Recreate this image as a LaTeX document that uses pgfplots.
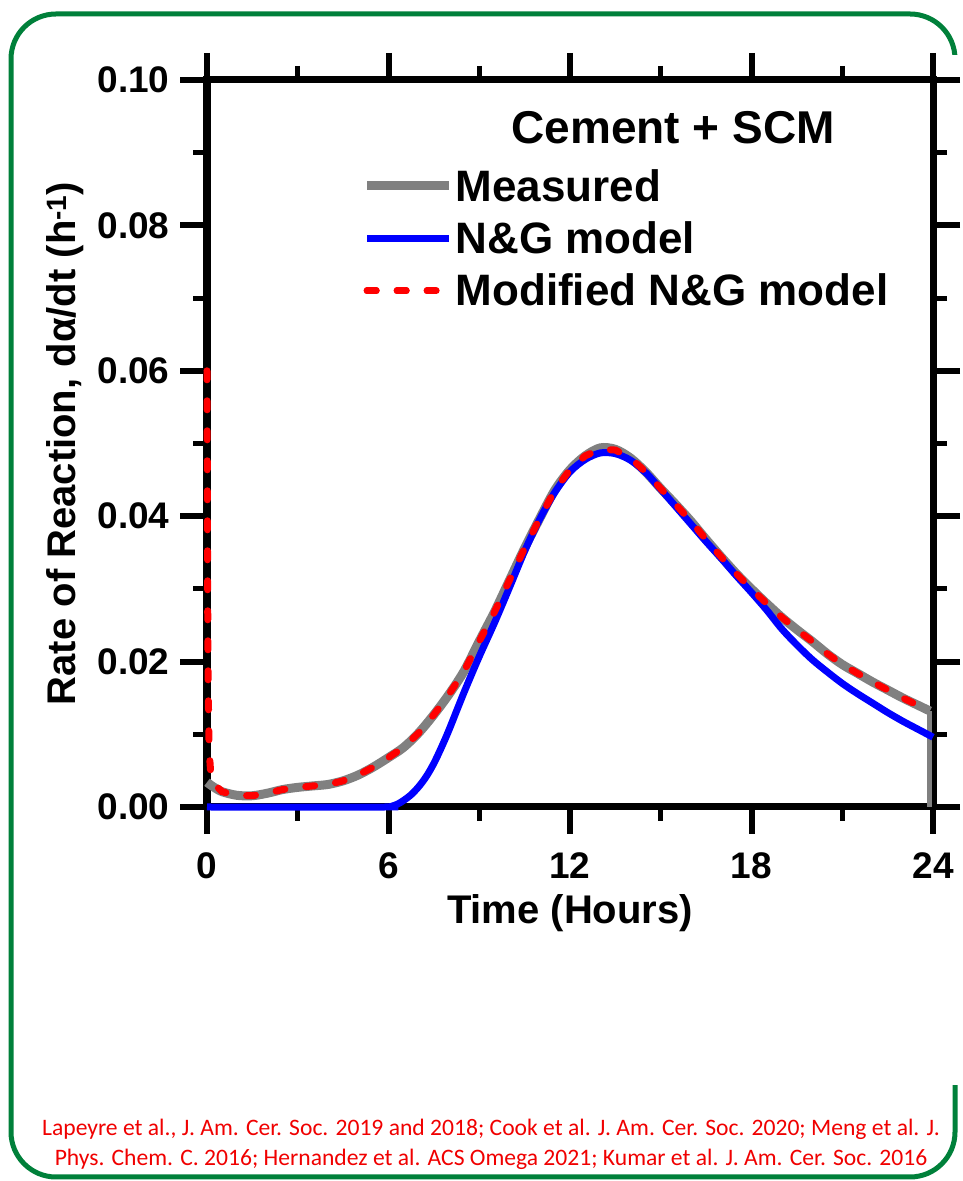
\documentclass[border=0pt]{standalone}
\usepackage{pgfplots}
\pgfplotsset{compat=1.18}
\usepackage{fontspec}
\setmainfont{Liberation Sans}
\newfontfamily\calib{Carlito}
\definecolor{frameGreen}{RGB}{0,128,58}
\definecolor{mgray}{RGB}{128,128,128}
\definecolor{mblue}{RGB}{0,0,255}
\definecolor{mred}{RGB}{255,0,0}
\definecolor{citered}{RGB}{240,0,0}
\begin{document}
\begin{tikzpicture}[x=1pt,y=1pt]
\useasboundingbox (0,0) rectangle (963,1181);
\draw[frameGreen, line width=5pt, rounded corners=45pt] (11,4) rectangle (955,1167);
\fill[white] (935,96) rectangle (975,1126);
\begin{axis}[
  at={(207pt,374pt)}, anchor=south west,
  scale only axis, width=726pt, height=727pt,
  xmin=0, xmax=24, ymin=0, ymax=0.10,
  clip=false,
  xtick={0,6,12,18,24},
  minor xtick={3,9,15,21},
  ytick={0,0.02,0.04,0.06,0.08,0.10},
  minor ytick={0.01,0.03,0.05,0.07,0.09},
  /pgf/number format/assume math mode=true,
  ticklabel style={font=\bfseries\fontsize{37}{37}\selectfont},
  yticklabel style={xshift=-7pt, /pgf/number format/.cd, fixed, fixed zerofill, precision=2},
  xticklabel style={yshift=-15pt},
  tick align=outside,
  major tick length=27pt,
  minor tick length=14pt,
  every tick/.style={black, line width=5pt},
  every major tick/.append style={line width=6pt},
  axis line style={line width=7pt, black},
  xlabel={Time (Hours)},
  ylabel={Rate of Reaction, dα/dt (h\textsuperscript{-1})},
  label style={font=\bfseries\fontsize{40}{40}\selectfont},
  xlabel style={at={(axis description cs:0.5,-0.146)}, anchor=center},
  ylabel style={at={(axis description cs:-0.196,0.5)}, anchor=center},
  legend style={at={(axis description cs:0.21,0.883)}, anchor=north west,
    draw=none, fill=none, font=\bfseries\fontsize{44}{52}\selectfont,
    row sep=15pt},
  legend cell align=left,
  legend image code/.code={\draw[#1] (0pt,0pt) -- (60pt,0pt); \path (0pt,0pt) -- (82pt,0pt);},
]
\addplot[mgray, line width=9pt, smooth] coordinates {
(0,0.0034) (0.2,0.0028) (0.5,0.0021) (1.0,0.0016) (1.5,0.00155) (2.0,0.0019)
(2.5,0.0024) (3.0,0.0027) (3.5,0.0029) (4.0,0.0031) (4.5,0.0036) (5.0,0.0044)
(5.5,0.0055) (6.0,0.0068) (6.5,0.0082) (7.0,0.0102) (7.5,0.0127) (8.0,0.0155)
(8.5,0.0187) (9.0,0.0228) (9.5,0.0268) (10.0,0.0312) (10.5,0.0356) (11.0,0.0397)
(11.5,0.0436) (12.0,0.0464) (12.5,0.0483) (13.0,0.0494) (13.5,0.0492) (14.0,0.0480)
(14.5,0.0461) (15.0,0.0438) (15.5,0.0416) (16.0,0.0393) (16.5,0.0368) (17.0,0.0344)
(17.5,0.0321) (18.0,0.0300) (18.5,0.0280) (19.0,0.0261) (19.5,0.0244) (20.0,0.0228)
(20.5,0.0211) (21.0,0.0196) (21.5,0.0184) (22.0,0.0172) (22.5,0.0161) (23.0,0.0150)
(23.5,0.0140) (23.9,0.0132)
};
\addlegendentry{Measured}
\addplot[mgray, line width=5pt, forget plot] coordinates {(23.9,0.0132) (23.9,0.0)};
\addplot[mblue, line width=7pt, smooth] coordinates {
(0,0) (5.9,0) (6.1,0.0001) (6.3,0.0004) (6.5,0.0009) (6.75,0.0017) (7.0,0.0028)
(7.25,0.0042) (7.5,0.0060) (7.75,0.0082) (8.0,0.0106)
(8.5,0.0158) (9.0,0.0207) (9.5,0.0253) (10.0,0.0302) (10.5,0.0352) (11.0,0.0396)
(11.5,0.0433) (12.0,0.0461) (12.5,0.0478) (13.0,0.0487) (13.5,0.0486) (14.0,0.0477)
(14.5,0.0460) (15.0,0.0437) (15.5,0.0413) (16.0,0.0389) (16.5,0.0365) (17.0,0.0342)
(17.5,0.0318) (18.0,0.0295) (18.5,0.0271) (19.0,0.0245) (19.5,0.0223) (20.0,0.0203)
(20.5,0.0186) (21.0,0.0170) (21.5,0.0156) (22.0,0.0143) (22.5,0.0130) (23.0,0.0118)
(23.5,0.0107) (24.0,0.0096)
};
\addlegendentry{N\&G model}
\addplot[mred, line width=7pt, line cap=round, dash pattern=on 9pt off 21pt] coordinates {
(0,0.060) (0.01,0.045) (0.02,0.030) (0.04,0.016) (0.07,0.008) (0.12,0.0048) (0.2,0.0033)
(0.5,0.0021) (1.0,0.0016) (1.5,0.00155) (2.0,0.0019)
(2.5,0.0024) (3.0,0.0027) (3.5,0.0029) (4.0,0.0031) (4.5,0.0036) (5.0,0.0044)
(5.5,0.0055) (6.0,0.0068) (6.5,0.0082) (7.0,0.0102) (7.5,0.0127) (8.0,0.0155)
(8.5,0.0187) (9.0,0.0228) (9.5,0.0268) (10.0,0.0312) (10.5,0.0356) (11.0,0.0397)
(11.5,0.0436) (12.0,0.0464) (12.5,0.0483) (13.0,0.0492) (13.5,0.0491) (14.0,0.0480)
(14.5,0.0461) (15.0,0.0438) (15.5,0.0416) (16.0,0.0393) (16.5,0.0368) (17.0,0.0344)
(17.5,0.0321) (18.0,0.0300) (18.5,0.0280) (19.0,0.0261) (19.5,0.0244) (20.0,0.0228)
(20.5,0.0211) (21.0,0.0196) (21.5,0.0184) (22.0,0.0172) (22.5,0.0161) (23.0,0.0150)
(23.5,0.0140) (23.9,0.0133)
};
\addlegendentry{Modified N\&G model}
\node[font=\bfseries\fontsize{46}{46}\selectfont] at (axis description cs:0.642,0.935) {Cement + SCM};
\end{axis}
\node[citered, font=\calib\fontsize{23.6}{30}\selectfont, align=center] at (491,37)
  {Lapeyre et al., J. Am. Cer. Soc. 2019 and 2018; Cook et al. J. Am. Cer. Soc. 2020; Meng et al. J.\\
   Phys. Chem. C. 2016; Hernandez et al. ACS Omega 2021; Kumar et al. J. Am. Cer. Soc. 2016};
\end{tikzpicture}
\end{document}
